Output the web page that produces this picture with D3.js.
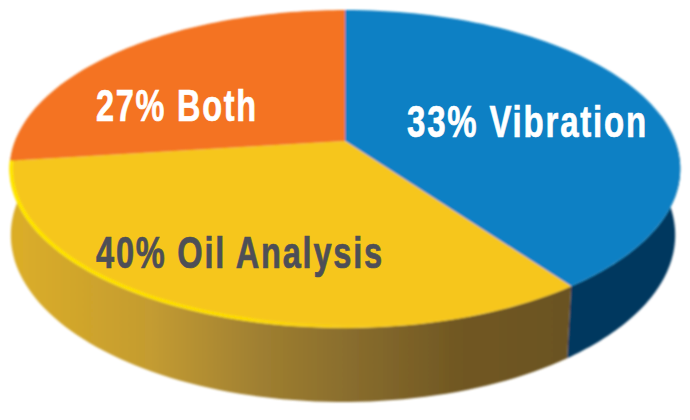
<!DOCTYPE html>
<html><head><meta charset="utf-8">
<script src="https://cdn.jsdelivr.net/npm/d3@7"></script>
<style>html,body{margin:0;padding:0;background:#fff}svg{display:block}</style>
</head><body><svg id="c" width="690" height="420"></svg>
<script>
// Slice shares as drawn (clockwise from 12 o'clock).
const categories = ["Vibration", "Oil Analysis", "Both"];
const drawnShares = [40, 33, 27];
// Labels as printed on the picture.
const labelTexts = ["33% Vibration", "40% Oil Analysis", "27% Both"];
const labelColors = ["#ffffff", "#4d4f57", "#ffffff"];
const topColors = ["#0880c4", "#f6c61b", "#f47320"];
const labelX = [407, 96, 96];
const labelY = [137, 268, 121];
const labelW = [241, 288, 162];

const W = 690, H = 420;
const svg = d3.select("#c").attr("viewBox", [0, 0, W, H]);
const defs = svg.append("defs");

// Perspective projection of a tilted disc: z=0 is the top face, z=1 the bottom outline
const k = -0.176;
const level = {
  0: {cx: 345, cy: 141, rx: 330, ry: 154},
  1: {cx: 343, cy: 205.6, rx: 327, ry: 161.8}
};
function project(a, z) {
  const L = level[z], u = Math.sin(a), v = -Math.cos(a), w = 1 + k * v;
  return [L.cx + L.rx * u / w, L.cy + L.ry * v / w];
}
const arcs = d3.pie().sort(null).value(d => d).startAngle(0).endAngle(2 * Math.PI)(drawnShares);
const samples = (a0, a1) => d3.range(0, 81).map(d3.scaleLinear([0, 80], [a0, a1]));
const line = d3.line();

// Gradients
const lg = (id, x1, x2, stops) => {
  const g = defs.append("linearGradient").attr("id", id).attr("gradientUnits", "userSpaceOnUse")
    .attr("x1", x1).attr("x2", x2).attr("y1", 0).attr("y2", 0);
  stops.forEach(s => g.append("stop").attr("offset", s[0]).attr("stop-color", s[1]).attr("stop-opacity", s[2] ?? 1));
};
lg("sideY", 10, 568, [[0, "#dcae28"], [0.25, "#c49c30"], [0.45, "#9f7f30"], [0.6, "#8a6e2e"], [0.8, "#715823"], [1, "#6b5320"]]);
lg("rim", 10, 480, [[0, "#ffe600", 1], [0.5, "#ffe000", 0.85], [0.75, "#f8d020", 0.3], [1, "#f6c61b", 0]]);
defs.append("filter").attr("id", "soft").append("feGaussianBlur").attr("stdDeviation", 0.8);

const g = svg.append("g").attr("filter", "url(#soft)");

// Side walls: blue reaches round to the right silhouette, yellow to the left one
const wall = (a0, a1) => line([...samples(a0, a1).map(a => project(a, 0)),
                               ...samples(a1, a0).map(a => project(a, 1))]) + "Z";
const radians = Math.PI / 180;
g.append("path").attr("d", wall(80 * radians, arcs[0].endAngle)).attr("fill", "#00395f");
g.append("path").attr("d", wall(arcs[1].startAngle, 272 * radians)).attr("fill", "url(#sideY)");

// Top face
const face = d => line([[level[0].cx, level[0].cy], ...samples(d.startAngle, d.endAngle).map(a => project(a, 0))]) + "Z";
g.selectAll("path.top").data(arcs).join("path").attr("class", "top")
  .attr("d", face).attr("fill", (d, i) => topColors[i]);

// Bright rim along the yellow slice's outer edge
g.append("path")
  .attr("d", line(samples(arcs[1].endAngle, arcs[1].startAngle).map(a => {
    const p = project(a, 0); return [p[0] + 1.4 * Math.abs(Math.sin(a)) * (a > Math.PI ? 1 : -1), p[1] - 1.6 * Math.abs(Math.cos(a))];
  })))
  .attr("fill", "none").attr("stroke", "url(#rim)").attr("stroke-width", 3.8);

// Labels: the heavy condensed face is produced by narrowing a bold sans horizontally
const labels = svg.selectAll("text").data(labelTexts).join("text")
  .attr("fill", (d, i) => labelColors[i])
  .attr("stroke", (d, i) => labelColors[i]).attr("stroke-width", 0.7)
  .attr("font-family", "'Liberation Sans',sans-serif")
  .attr("font-weight", 700).attr("font-size", 44)
  .attr("letter-spacing", 2.4)
  .text(d => d);
labels.attr("transform", function (d, i) {
  const sx = labelW[i] / this.getComputedTextLength();
  return `translate(${labelX[i]},${labelY[i]}) scale(${sx},1)`;
});
</script></body></html>
